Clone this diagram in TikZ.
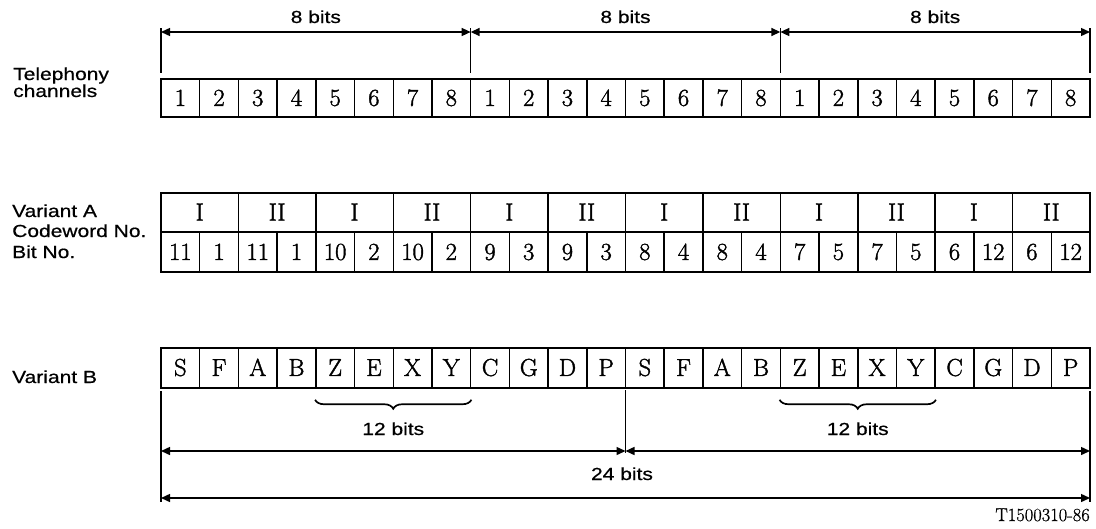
\documentclass[tikz,border=0pt]{standalone}
\usepackage{fontspec}
\newfontfamily\lblfont[FakeStretch=1.2,FakeBold=0.6]{Liberation Sans}
\newfontfamily\cellfont[FakeBold=1.6]{Latin Modern Roman}
\newfontfamily\idfont[FakeBold=0.8]{Latin Modern Roman}
\usetikzlibrary{arrows.meta,decorations.pathreplacing}
\begin{document}
\begin{tikzpicture}[x=1pt,y=-1pt,
  cell/.style={draw, line width=1.5pt, inner sep=0pt, minimum width=38.708pt,
    font=\cellfont\fontsize{24.5}{27}\selectfont, text height=15.8pt, text depth=0pt},
  lbl/.style={font=\lblfont\fontsize{17.5}{21}\selectfont, anchor=base west, inner sep=0pt},
  dimtxt/.style={font=\lblfont\fontsize{17.5}{21}\selectfont, anchor=base, inner sep=0pt},
  dimline/.style={line width=1.4pt, {Triangle[length=9pt,width=8pt]}-{Triangle[length=9pt,width=8pt]}},
  tickline/.style={line width=1.4pt},
  bracestyle/.style={line width=1.7pt, decorate, decoration={brace, mirror, amplitude=9pt}}]
\useasboundingbox (0,0) rectangle (1096,528);
\def\cw{38.708}
% labels
\node[lbl] (l1) at (13,80) {Telephony};
\node[lbl] (l2) at (13,97) {channels};
\node[lbl] (l3) at (12,217) {Variant A};
\node[lbl] (l4) at (12,237) {Codeword No.};
\node[lbl] (l5) at (12,258) {Bit No.};
\node[lbl] (l6) at (12,383) {Variant B};
% row 1
\foreach \d [count=\i] in {1,2,3,4,5,6,7,8,1,2,3,4,5,6,7,8,1,2,3,4,5,6,7,8}
  \node[cell, minimum height=38pt] (t\i) at ({161+(\i-0.5)*\cw},98) {\d};
% row 2 top
\foreach \r [count=\i] in {I,II,I,II,I,II,I,II,I,II,I,II}
  \node[cell, minimum width=77.416pt, minimum height=39pt] (c\i) at ({161+(2*\i-1)*\cw},212.5) {\r};
% row 2 bottom
\foreach \d [count=\i] in {11,1,11,1,10,2,10,2,9,3,9,3,8,4,8,4,7,5,7,5,6,12,6,12}
  \node[cell, minimum height=40pt] (n\i) at ({161+(\i-0.5)*\cw},252) {\d};
% row 3
\foreach \d [count=\i] in {S,F,A,B,Z,E,X,Y,C,G,D,P,S,F,A,B,Z,E,X,Y,C,G,D,P}
  \node[cell, minimum height=40pt] (b\i) at ({161+(\i-0.5)*\cw},368) {\d};
% top dimensions
\foreach \k in {0,1,2,3} {
  \coordinate (ta\k) at ({161+8*\k*\cw},28);
  \coordinate (tm\k) at ({161+8*\k*\cw},32);
  \coordinate (tb\k) at ({161+8*\k*\cw},73);
  \draw[tickline] (ta\k) -- (tb\k);
}
\draw[dimline] (tm0) -- (tm1);
\draw[dimline] (tm1) -- (tm2);
\draw[dimline] (tm2) -- (tm3);
\node[dimtxt] (e1) at ({161+4*\cw},23) {8 bits};
\node[dimtxt] (e2) at ({161+12*\cw},23) {8 bits};
\node[dimtxt] (e3) at ({161+20*\cw},23) {8 bits};
% braces
\draw[bracestyle] ([yshift=-11pt]b5.south west) -- ([yshift=-11pt]b8.south east);
\draw[bracestyle] ([yshift=-11pt]b17.south west) -- ([yshift=-11pt]b20.south east);
\node[dimtxt] (w1) at ({161+6*\cw},435) {12 bits};
\node[dimtxt] (w2) at ({161+18*\cw},435) {12 bits};
% bottom dimensions
\coordinate (bl1) at (161,391); \coordinate (bl2) at (161,502);
\coordinate (br1) at (1090,391); \coordinate (br2) at (1090,502);
\coordinate (bm1) at ({161+12*\cw},390); \coordinate (bm2) at ({161+12*\cw},453);
\draw[tickline] (bl1) -- (bl2);
\draw[tickline] (br1) -- (br2);
\draw[tickline] (bm1) -- (bm2);
\coordinate (al) at (161,451); \coordinate (am) at ({161+12*\cw},451); \coordinate (ar) at (1090,451);
\coordinate (dl) at (161,498); \coordinate (dr) at (1090,498);
\draw[dimline] (al) -- (am);
\draw[dimline] (am) -- (ar);
\draw[dimline] (dl) -- (dr);
\node[dimtxt] (tw) at (622,480) {24 bits};
\node[font=\idfont\fontsize{18.5}{21}\selectfont, anchor=base east, inner sep=0pt] (id) at (1090,521) {T1500310-86};
\end{tikzpicture}
\end{document}
